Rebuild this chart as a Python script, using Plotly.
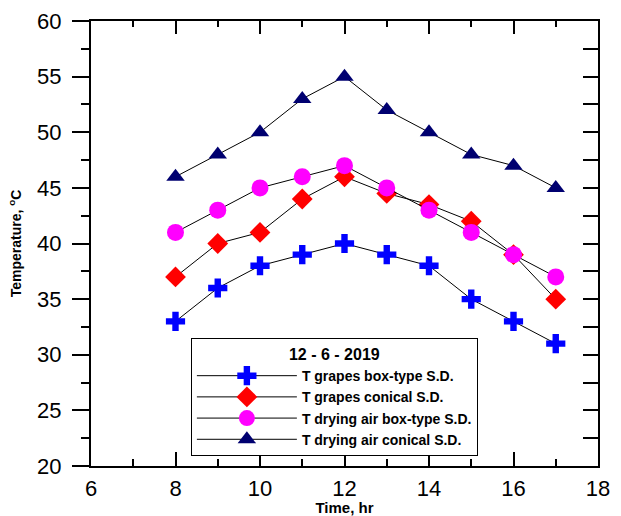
import plotly.graph_objects as go

# Hourly readings, 12 - 6 - 2019
time_hr = [8, 9, 10, 11, 12, 13, 14, 15, 16, 17]
t_grapes_box = [33, 36, 38, 39, 40, 39, 38, 35, 33, 31]
t_grapes_conical = [37, 40, 41, 44, 46, 44.5, 43.5, 42, 39, 35]
t_air_box = [41, 43, 45, 46, 47, 45, 43, 41, 39, 37]
t_air_conical = [46, 48, 50, 53, 55, 52, 50, 48, 47, 45]

x_ticks = [6, 8, 10, 12, 14, 16, 18]
y_ticks = [20, 25, 30, 35, 40, 45, 50, 55, 60]

FONT = "Liberation Sans, Arial, sans-serif"

series = [
    ("T grapes box-type S.D.", t_grapes_box, "cross", "#0000FF", 16),
    ("T grapes conical S.D.", t_grapes_conical, "diamond", "#FF0000", 16),
    ("T drying air box-type S.D.", t_air_box, "circle", "#FF00FF", 17),
    ("T drying air conical S.D.", t_air_conical, "triangle-up", "#000070", 16),
]

fig = go.Figure()
for name, vals, sym, col, size in series:
    fig.add_trace(go.Scatter(
        x=time_hr, y=vals, name=name, mode="lines+markers",
        line=dict(color="black", width=1),
        marker=dict(symbol=sym, color=col, size=size, line=dict(width=0)),
    ))

# invisible trace to activate the top/right frame axes
fig.add_trace(go.Scatter(x=[6, 18], y=[20, 60], xaxis="x2", yaxis="y2",
                         mode="markers", marker=dict(opacity=0),
                         showlegend=False, hoverinfo="skip"))

fig.update_layout(
    width=621, height=516,
    margin=dict(l=91, r=23, t=21, b=50),
    paper_bgcolor="white", plot_bgcolor="white",
    font=dict(family=FONT, color="black"),
    showlegend=True,
    xaxis=dict(
        range=[6, 18], tickvals=x_ticks, ticks="inside", ticklen=14, tickwidth=2,
        tickcolor="black", showline=True, linewidth=2, linecolor="black",
        showgrid=False, zeroline=False, tickfont=dict(size=22, family=FONT),
        ticklabelstandoff=2, automargin=False,
        minor=dict(dtick=1, ticks="inside", ticklen=7, tickwidth=2, tickcolor="black"),
        title=dict(text="<b>Time, hr</b>", font=dict(size=15, family=FONT), standoff=3),
    ),
    yaxis=dict(
        range=[20, 60], tickvals=y_ticks, ticks="outside", ticklen=17, tickwidth=2,
        tickcolor="black", showline=True, linewidth=2, linecolor="black",
        showgrid=False, zeroline=False, tickfont=dict(size=22, family=FONT),
        ticklabelstandoff=6, automargin=False,
        minor=dict(dtick=2.5, ticks="outside", ticklen=8, tickwidth=2, tickcolor="black"),
        title=dict(text="<b>Temperature, <sup>o</sup>C</b>", font=dict(size=14, family=FONT), standoff=12),
    ),
    xaxis2=dict(
        overlaying="x", side="top", range=[6, 18], tickvals=x_ticks, ticks="inside",
        ticklen=13, tickwidth=2, tickcolor="black", showticklabels=False,
        showline=True, linewidth=2, linecolor="black", showgrid=False, zeroline=False,
        minor=dict(dtick=1, ticks="inside", ticklen=6, tickwidth=2, tickcolor="black"),
    ),
    yaxis2=dict(
        overlaying="y", side="right", range=[20, 60], tickvals=y_ticks, ticks="inside",
        ticklen=15, tickwidth=2, tickcolor="black", showticklabels=False,
        showline=True, linewidth=2, linecolor="black", showgrid=False, zeroline=False,
        minor=dict(dtick=2.5, ticks="inside", ticklen=15, tickwidth=2, tickcolor="black"),
    ),
    legend=dict(
        x=0.197, y=0.287, xanchor="left", yanchor="top",
        bgcolor="white", bordercolor="black", borderwidth=1,
        font=dict(size=14, family=FONT, color="black", weight="bold"),
        title=dict(text="<b>12 - 6 - 2019</b>", side="top center",
                   font=dict(size=16, family=FONT)),
        itemwidth=100, tracegroupgap=0,
        entrywidth=215, entrywidthmode="pixels",
    ),
)

fig.write_html("out.html")
